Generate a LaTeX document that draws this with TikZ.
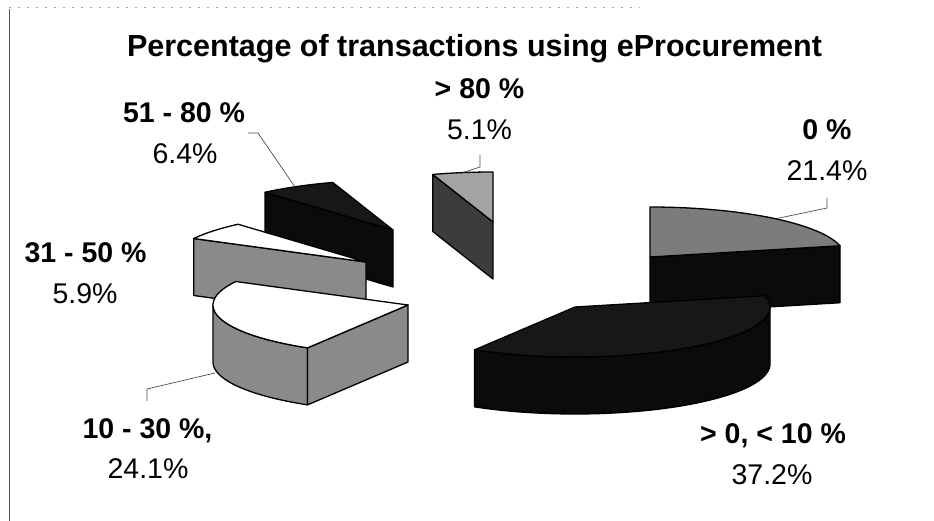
\documentclass[tikz,border=0pt]{standalone}
\usepackage{fontspec}
\setmainfont{Liberation Sans}
\definecolor{midgrey}{HTML}{8A8A8A}
\definecolor{lightgrey}{HTML}{A3A3A3}
\definecolor{slategrey}{HTML}{7C7C7C}
\definecolor{darkgrey}{HTML}{3C3C3C}
\definecolor{nearblack}{HTML}{171717}
\definecolor{deepblack}{HTML}{0B0B0B}
\definecolor{framegrey}{HTML}{555555}

% pie geometry: horizontal radius, vertical radius, thickness
\def\pra{195}
\def\prb{50}
\def\pdep{57}

% top face of a wedge: centre x, centre y, start angle, end angle, fill
\newcommand\wedgetop[5]{%
  \filldraw[edge, fill=#5] (#1,#2)
    -- plot[domain=#3:#4, samples=48] ({#1+\pra*cos(\x)},{#2-\prb*sin(\x)})
    -- cycle;}
% radial cut face of a wedge: centre x, centre y, angle, fill
\newcommand\wedgecut[4]{%
  \filldraw[edge, fill=#4] (#1,#2)
    -- ({#1+\pra*cos(#3)},{#2-\prb*sin(#3)})
    -- ++(0,\pdep) -- (#1,{#2+\pdep}) -- cycle;}
% curved outer rim of a wedge: centre x, centre y, start angle, end angle, fill
\newcommand\wedgerim[5]{%
  \filldraw[edge, fill=#5]
    plot[domain=#3:#4, samples=48] ({#1+\pra*cos(\x)},{#2-\prb*sin(\x)})
    -- plot[domain=#4:#3, samples=48] ({#1+\pra*cos(\x)},{#2+\pdep-\prb*sin(\x)})
    -- cycle;}

\begin{document}
\begin{tikzpicture}[x=1pt,y=-1pt,
  edge/.style={draw=black, line width=1.3pt, line join=round},
  leader/.style={draw=black!70, line width=0.7pt},
  cat/.style={font=\fontsize{28.5}{34}\selectfont\bfseries, anchor=base, inner sep=0pt},
  pct/.style={font=\fontsize{28.5}{34}\selectfont, anchor=base, inner sep=0pt},
  heading/.style={font=\fontsize{30.5}{36}\selectfont\bfseries, anchor=base, inner sep=0pt}]
\useasboundingbox (0,0) rectangle (934,521);

% frame remains
\draw[framegrey, line width=1pt] (9,9) -- (9,521);
\draw[black!35, line width=0.6pt, dash pattern=on 2pt off 7pt] (9,7) -- (640,7);

% title
\node[heading] (title) at (474.5,57) {Percentage of transactions using eProcurement};

% wedges, back to front
% > 80 %
\wedgecut{493}{222}{108}{darkgrey}
\wedgetop{493}{222}{90}{108}{lightgrey}
% 51 - 80 %
\wedgecut{393}{230}{131}{deepblack}
\wedgetop{393}{230}{108}{131}{nearblack}
% 0 %
\wedgecut{650}{257}{13}{deepblack}
\wedgetop{650}{257}{13}{90}{slategrey}
% 31 - 50 %
\wedgecut{366}{262}{152}{midgrey}
\wedgetop{366}{262}{131}{152}{white}
% 10 - 30 %
\wedgerim{408}{305}{180}{239}{midgrey}
\wedgecut{408}{305}{239}{midgrey}
\wedgetop{408}{305}{152}{239}{white}
% > 0, < 10 %
\wedgerim{575}{307}{-121}{0}{deepblack}
\wedgetop{575}{307}{-121}{13}{nearblack}

% labels
\node[cat] (c80) at (479.5,99) {> 80 \%};
\node[pct] (p80) at (479.5,140) {5.1\%};
\node[cat] (c51) at (184,123) {51 - 80 \%};
\node[pct] (p51) at (185,164) {6.4\%};
\node[cat] (c0) at (827,140) {0 \%};
\node[pct] (p0) at (827,181) {21.4\%};
\node[cat] (c31) at (85.5,263) {31 - 50 \%};
\node[pct] (p31) at (85,304) {5.9\%};
\node[cat] (c10) at (147.5,438) {10 - 30 \%,};
\node[pct] (p10) at (148,478) {24.1\%};
\node[cat] (c1) at (773,443) {> 0, < 10 \%};
\node[pct] (p1) at (772,484) {37.2\%};

% leader lines
\coordinate (a80) at (480,155);
\coordinate (b80) at (480,167);
\coordinate (e80) at (463,172.5);
\draw[leader] (a80) -- (b80) -- (e80);
\coordinate (a51) at (248,133);
\coordinate (b51) at (258,133);
\coordinate (e51) at (295,187);
\draw[leader] (a51) -- (b51) -- (e51);
\coordinate (a0) at (827,198);
\coordinate (b0) at (827,208);
\coordinate (e0) at (777,218.5);
\draw[leader] (a0) -- (b0) -- (e0);
\coordinate (a10) at (147,401);
\coordinate (b10) at (147,389);
\coordinate (e10) at (215,373);
\draw[leader] (a10) -- (b10) -- (e10);
\end{tikzpicture}
\end{document}
